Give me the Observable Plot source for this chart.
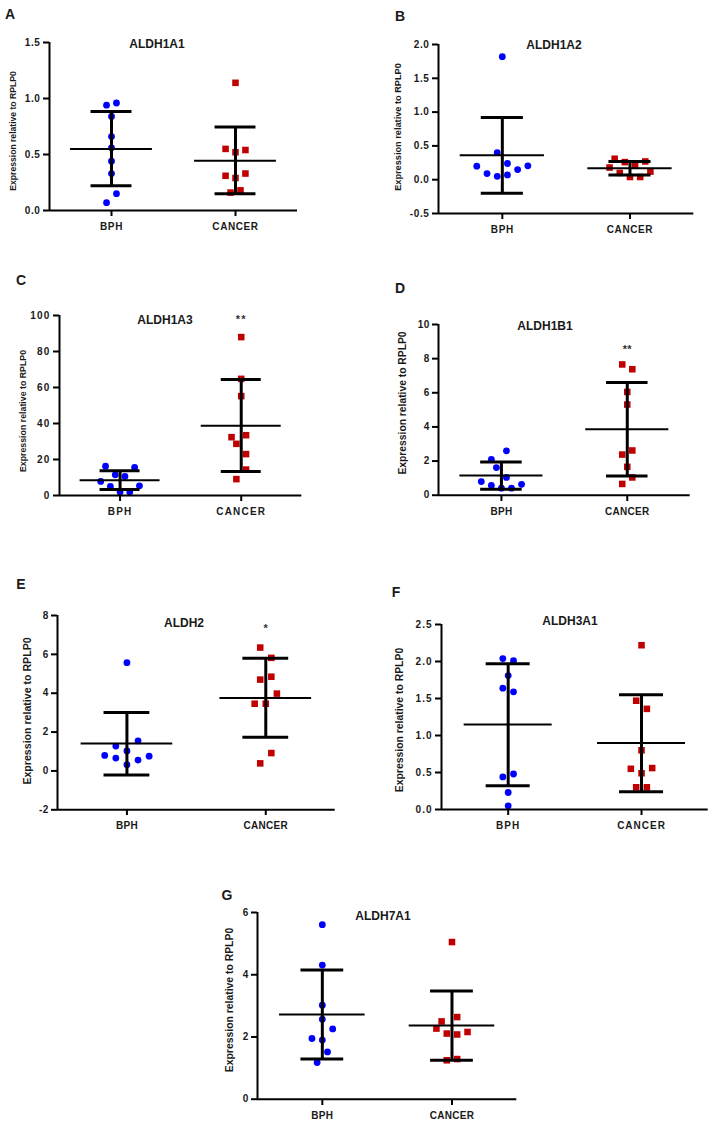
<!DOCTYPE html>
<html><head><meta charset="utf-8">
<script src="https://cdn.jsdelivr.net/npm/d3@7"></script>
<script src="https://cdn.jsdelivr.net/npm/@observablehq/plot@0.6"></script>
<style>
body{margin:0;background:#fff;}
#fig{position:relative;width:715px;height:1124px;font-family:"Liberation Sans",Arial,sans-serif;color:#1a1a1a;overflow:hidden;}
#fig svg{position:absolute;overflow:visible;}
.t{position:absolute;font-weight:bold;white-space:nowrap;transform:translate(-50%,-50%);line-height:1;}
.yl{position:absolute;font-weight:bold;white-space:nowrap;transform:translate(-50%,-50%) rotate(-90deg);line-height:1;}
</style></head><body><div id="fig"></div><script>
// ---------- data ----------
const groups = ["BPH", "CANCER"];
const genes = ["ALDH1A1", "ALDH1A2", "ALDH1A3", "ALDH1B1", "ALDH2", "ALDH3A1", "ALDH7A1"];
const letters = ["A", "B", "C", "D", "E", "F", "G"];
const yLabel = "Expression relative to RPLP0";

// individual samples (value) and their horizontal scatter slot
const aBph = [0.94, 0.96, 0.84, 0.66, 0.56, 0.44, 0.33, 0.15, 0.07];
const aBphSlot = [-1, 1, 0, 0, 0, 0, 0, 1, -1];
const aCan = [1.14, 0.55, 0.52, 0.54, 0.31, 0.29, 0.33, 0.16, 0.18];
const aCanSlot = [0, -2, 0, 2, -2, 0, 2, -1, 1];
const aMean = [0.55, 0.445], aLo = [0.22, 0.15], aHi = [0.885, 0.745];
const aTicks = [0, 0.5, 1.0, 1.5];

const bBph = [1.82, 0.40, 0.24, 0.20, 0.205, 0.15, 0.09, 0.05, 0.07];
const bBphSlot = [0, -1, 1, -5, 5, 3, -3, -1, 1];
const bCan = [0.31, 0.26, 0.27, 0.21, 0.18, 0.10, 0.12, 0.04, 0.04];
const bCanSlot = [-3, -1, 3, 1, -4, -2, 4, 0, 2];
const bMean = [0.36, 0.17], bLo = [-0.20, 0.07], bHi = [0.92, 0.27];
const bTicks = [-0.5, 0, 0.5, 1.0, 1.5, 2.0];

const cBph = [16.3, 15.6, 11.5, 10.6, 7.8, 5.0, 5.4, 1.9, 1.9];
const cBphSlot = [-3, 3, -1, 1, -4, -2, 4, 0, 2];
const cCan = [88, 64.8, 55.2, 32.4, 28.7, 33.5, 23, 14.4, 9.1];
const cCanSlot = [0, 0, 0, -2, -1, 1, 1, 1, -1];
const cMean = [8.5, 38.7], cLo = [3.3, 13.3], cHi = [13.7, 64.4];
const cTicks = [0, 20, 40, 60, 80, 100];

const dBph = [2.6, 2.1, 1.62, 1.04, 0.8, 0.57, 0.64, 0.41, 0.41];
const dBphSlot = [1, -2, -1, 1, -4, -2, 4, 0, 2];
const dCan = [7.66, 7.38, 6.05, 5.31, 2.38, 2.62, 1.66, 1.04, 0.66];
const dCanSlot = [-1, 1, 0, 0, -1, 1, 0, 1, -1];
const dMean = [1.15, 3.87], dLo = [0.35, 1.13], dHi = [1.95, 6.6];
const dTicks = [0, 2, 4, 6, 8, 10];

const eBph = [5.57, 1.55, 1.28, 1.03, 0.8, 0.66, 0.56, 0.76, 0.32];
const eBphSlot = [0, 2, -2, 0, -4, -2, 2, 4, 0];
const eCan = [6.35, 5.82, 4.85, 4.7, 3.98, 3.46, 3.46, 0.92, 0.39];
const eCanSlot = [-1, 1, 1, -1, 2, -2, 0, 1, -1];
const eMean = [1.41, 3.76], eLo = [-0.21, 1.74], eHi = [3.01, 5.8];
const eTicks = [-2, 0, 2, 4, 6, 8];

const fBph = [2.04, 2.01, 1.81, 1.64, 1.59, 0.48, 0.44, 0.23, 0.05];
const fBphSlot = [-1, 1, 0, -1, 1, 1, -1, 0, 0];
const fCan = [2.22, 1.47, 1.36, 0.8, 0.55, 0.56, 0.49, 0.30, 0.30];
const fCanSlot = [0, -1, 1, 0, -2, 2, 0, -1, 1];
const fMean = [1.15, 0.90], fLo = [0.32, 0.24], fHi = [1.97, 1.55];
const fTicks = [0, 0.5, 1.0, 1.5, 2.0, 2.5];

const gBph = [5.61, 4.31, 3.02, 2.57, 2.26, 1.95, 1.9, 1.52, 1.18];
const gBphSlot = [0, 0, 0, 0, 2, -2, 0, 1, -1];
const gCan = [5.05, 2.64, 2.5, 2.27, 2.11, 2.08, 2.16, 1.25, 1.29];
const gCanSlot = [0, 1, -2, -3, -1, 1, 3, -1, 1];
const gMean = [2.72, 2.37], gLo = [1.29, 1.25], gHi = [4.15, 3.48];
const gTicks = [0, 2, 4, 6];

// significance marks above CANCER (text, value height)
const sigText = ["", "", "**", "**", "*", "", ""];
const sigValue = [null, null, 98, 8.55, 7.35, null, null];

// ---------- assembly ----------
const oneDec = d => d.toFixed(1);
const plain = d => String(d);
const panels = [
  {bph:aBph, bs:aBphSlot, can:aCan, cs:aCanSlot, mean:aMean, lo:aLo, hi:aHi, ticks:aTicks, fmt:oneDec},
  {bph:bBph, bs:bBphSlot, can:bCan, cs:bCanSlot, mean:bMean, lo:bLo, hi:bHi, ticks:bTicks, fmt:oneDec},
  {bph:cBph, bs:cBphSlot, can:cCan, cs:cCanSlot, mean:cMean, lo:cLo, hi:cHi, ticks:cTicks, fmt:plain},
  {bph:dBph, bs:dBphSlot, can:dCan, cs:dCanSlot, mean:dMean, lo:dLo, hi:dHi, ticks:dTicks, fmt:plain},
  {bph:eBph, bs:eBphSlot, can:eCan, cs:eCanSlot, mean:eMean, lo:eLo, hi:eHi, ticks:eTicks, fmt:plain},
  {bph:fBph, bs:fBphSlot, can:fCan, cs:fCanSlot, mean:fMean, lo:fLo, hi:fHi, ticks:fTicks, fmt:oneDec},
  {bph:gBph, bs:gBphSlot, can:gCan, cs:gCanSlot, mean:gMean, lo:gLo, hi:gHi, ticks:gTicks, fmt:plain}
];

// layout (pixel placement of each panel on the page)
const layout = [
  {x0:49,    x1:297,   yt:42,    yb:210,   L:[10,14],   T:[157,44],  Y:[13,131,8.6], ls:0.6},
  {x0:437.7, x1:693,   yt:44.3,  yb:213.3, L:[400,16],  T:[554,45],  Y:[399,127,9.2], ls:0.6},
  {x0:58.7,  x1:301,   yt:315,   yb:495,   L:[21,280],  T:[165,320], Y:[23,411,8.8], ls:1.2},
  {x0:438.3, x1:690,   yt:324.3, yb:495,   L:[400,288], T:[545,326], Y:[403,403,10.3], ls:0.3},
  {x0:57.3,  x1:335,   yt:615,   yb:809.3, L:[21,584],  T:[184,623], Y:[27,711,10.6], ls:0.3},
  {x0:441,   x1:707.7, yt:624.3, yb:809.3, L:[396,592], T:[570,621], Y:[400,720,10.4], ls:1.0},
  {x0:256.7, x1:516,   yt:912.3, yb:1099,  L:[227,895], T:[383,916], Y:[230,1000,10.4], ls:0.3}
];

const SLOT = 0.04, CAP = 0.165, MEANW = 0.33;
const BLUE = "#0000ff", RED = "#c00000", INK = "#1a1a1a";
const fig = document.getElementById("fig");
function addText(cls, x, y, size, txt) {
  const d = document.createElement("div");
  d.className = cls; d.style.left = x + "px"; d.style.top = y + "px";
  d.style.fontSize = size + "px"; d.textContent = txt; fig.appendChild(d);
}

panels.forEach((p, i) => {
  const lay = layout[i];
  const mL = 44, mR = 10, mT = 12, mB = 34;
  const ymin = p.ticks[0], ymax = p.ticks[p.ticks.length - 1];
  const pts = [
    ...p.bph.map((v, k) => ({x: 0 + p.bs[k] * SLOT, y: v})),
  ];
  const sq = p.can.map((v, k) => ({x: 1 + p.cs[k] * SLOT, y: v}));
  const stats = [0, 1].map(g => ({g, mean: p.mean[g], lo: p.lo[g], hi: p.hi[g]}));
  const marks = [
    Plot.dot(pts, {x: "x", y: "y", r: 3.4, fill: BLUE}),
    Plot.dot(sq, {x: "x", y: "y", r: 3.7, symbol: "square", fill: RED}),
    Plot.ruleX(stats, {x: "g", y1: "lo", y2: "hi", stroke: "#000", strokeWidth: 3}),
    Plot.ruleY(stats, {y: "hi", x1: d => d.g - CAP, x2: d => d.g + CAP, stroke: "#000", strokeWidth: 3}),
    Plot.ruleY(stats, {y: "lo", x1: d => d.g - CAP, x2: d => d.g + CAP, stroke: "#000", strokeWidth: 3}),
    Plot.ruleY(stats, {y: "mean", x1: d => d.g - MEANW, x2: d => d.g + MEANW, stroke: "#000", strokeWidth: 2}),
    Plot.ruleX([-0.5], {y1: ymin, y2: ymax, stroke: "#000", strokeWidth: 2}),
    Plot.ruleY([ymin], {x1: -0.5, x2: 1.5, stroke: "#000", strokeWidth: 2}),
    Plot.axisY({ticks: p.ticks, tickFormat: p.fmt, tickSize: 6, tickPadding: 3, strokeWidth: 2, stroke: "#000", fill: INK, label: null, fontSize: 10, fontWeight: "bold"}),
    Plot.axisX({ticks: [0, 1], tickFormat: d => groups[d], tickSize: 6, tickPadding: 6, strokeWidth: 2, stroke: "#000", fill: INK, label: null, fontSize: 10, fontWeight: "bold"})
  ];
  if (sigText[i]) marks.push(Plot.text([sigText[i]], {x: 1, y: sigValue[i], text: d => d, fontSize: 11, fontWeight: "bold", fill: "#333"}));
  const svg = Plot.plot({
    width: Math.round(lay.x1 - lay.x0 + mL + mR),
    height: Math.round(lay.yb - lay.yt + mT + mB),
    marginLeft: mL, marginRight: mR, marginTop: mT, marginBottom: mB,
    style: {fontFamily: '"Liberation Sans", Arial, sans-serif', fontWeight: "bold", fontSize: "10px", background: "transparent", letterSpacing: lay.ls + "px"},
    x: {type: "linear", domain: [-0.5, 1.5], range: [mL, mL + (lay.x1 - lay.x0)]},
    y: {domain: [ymin, ymax], range: [mT + (lay.yb - lay.yt), mT]},
    marks
  });
  svg.style.left = (lay.x0 - mL) + "px";
  svg.style.top = (lay.yt - mT) + "px";
  fig.appendChild(svg);
  addText("t", lay.L[0], lay.L[1], 14, letters[i]);
  addText("t", lay.T[0], lay.T[1], 12, genes[i]);
  addText("yl", lay.Y[0], lay.Y[1], lay.Y[2], yLabel);
});
</script></body></html>
